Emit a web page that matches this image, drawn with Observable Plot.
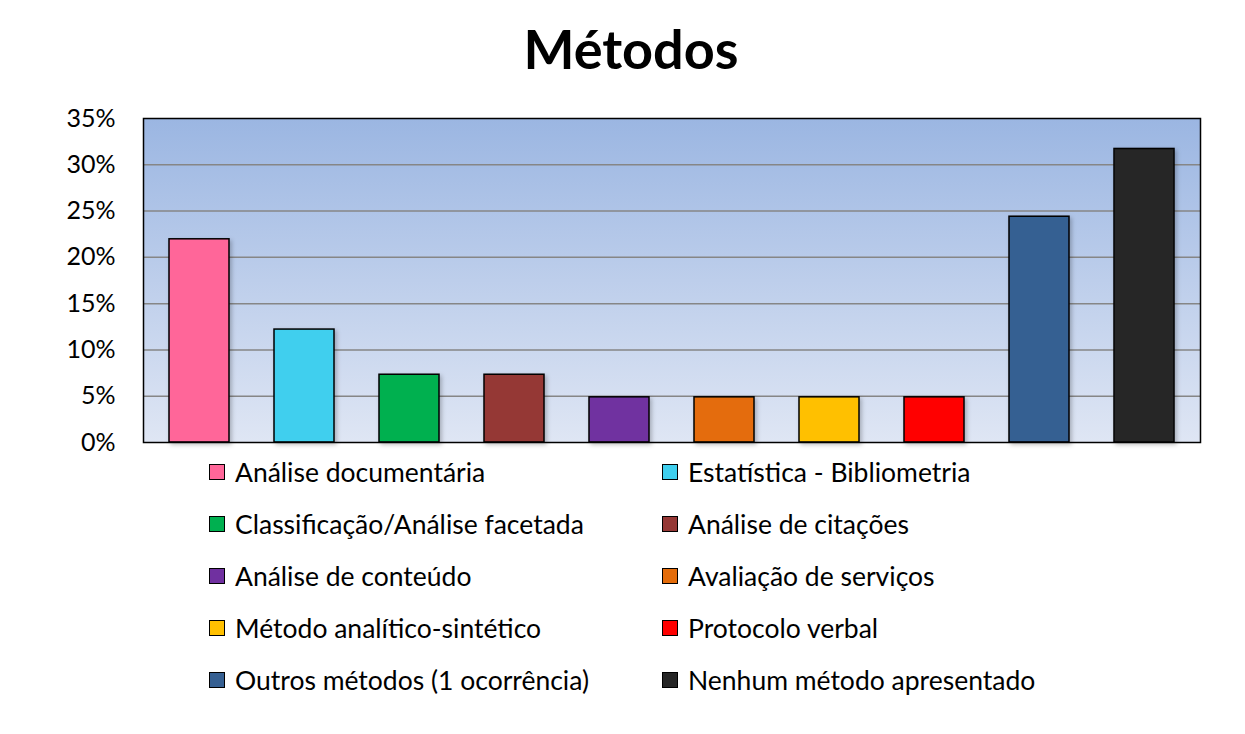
<!DOCTYPE html>
<html>
<head>
<meta charset="utf-8">
<script src="https://cdn.jsdelivr.net/npm/d3@7"></script>
<script src="https://cdn.jsdelivr.net/npm/@observablehq/plot@0.6"></script>
<style>
  html, body { margin: 0; padding: 0; background: #fff; }
  body { width: 1245px; height: 734px; position: relative; font-family: Lato, "Open Sans", sans-serif; overflow: hidden; }
  #title { position: absolute; left: 0; width: 1262px; top: 14px; text-align: center; font-weight: bold; font-size: 54px; line-height: 70px; color: #000; }
  #chart { position: absolute; left: 0; top: 108px; }
  .leg { position: absolute; display: flex; align-items: center; font-size: 26.5px; color: #000; height: 30px; white-space: nowrap; }
  .sw { width: 14px; height: 14px; border: 1px solid #000; margin-right: 10px; flex: none; }
</style>
</head>
<body>
<div id="title">Métodos</div>
<div id="chart"></div>
<div id="legend"></div>
<script>
const categories = [
  "Análise documentária",
  "Estatística - Bibliometria",
  "Classificação/Análise facetada",
  "Análise de citações",
  "Análise de conteúdo",
  "Avaliação de serviços",
  "Método analítico-sintético",
  "Protocolo verbal",
  "Outros métodos (1 ocorrência)",
  "Nenhum método apresentado"
];
const values = [21.95, 12.2, 7.32, 7.32, 4.88, 4.88, 4.88, 4.88, 24.39, 31.71];
const colors = ["#ff6699", "#3fcfee", "#00b050", "#953735", "#7030a0", "#e46c0a", "#ffc000", "#ff0000", "#366092", "#262626"];
const yTicks = [0, 5, 10, 15, 20, 25, 30, 35];
const gridTicks = [5, 10, 15, 20, 25, 30];

const data = categories.map((c, i) => ({cat: c, value: values[i]}));

const defsMark = () => {
  const defs = d3.create("svg:defs");
  const g = defs.append("linearGradient").attr("id", "bg").attr("x1", 0).attr("y1", 0).attr("x2", 0).attr("y2", 1);
  g.append("stop").attr("offset", "0%").attr("stop-color", "#9bb6e2");
  g.append("stop").attr("offset", "100%").attr("stop-color", "#dfe6f4");
  const f = defs.append("filter").attr("id", "shadow").attr("x", "-20%").attr("y", "-20%").attr("width", "150%").attr("height", "150%");
  f.append("feDropShadow").attr("dx", 2).attr("dy", 2).attr("stdDeviation", 2).attr("flood-color", "#000").attr("flood-opacity", 0.25);
  return defs.node();
};

const chart = Plot.plot({
  width: 1245,
  height: 338,
  marginLeft: 143,
  marginRight: 45,
  marginTop: 10,
  marginBottom: 4,
  style: {fontFamily: "Lato, 'Open Sans', sans-serif", fontSize: "25px", color: "#000", background: "transparent", overflow: "visible"},
  x: {domain: categories, paddingInner: 0.43, paddingOuter: 0.215, axis: null},
  y: {domain: [0, 35], ticks: yTicks, tickFormat: d => d + "%", tickSize: 0, tickPadding: 28, label: null},
  color: {domain: categories, range: colors},
  marks: [
    defsMark,
    Plot.frame({fill: "url(#bg)", stroke: null}),
    Plot.gridY(gridTicks, {stroke: "#868686", strokeOpacity: 1, strokeWidth: 1.5}),
    Plot.barY(data, {x: "cat", y: "value", fill: "cat", stroke: "#000", strokeWidth: 1.5}),
    Plot.frame({stroke: "#000", strokeWidth: 1.5})
  ]
});
d3.select(chart).selectAll("g[aria-label='bar'] rect").attr("filter", "url(#shadow)");
document.getElementById("chart").appendChild(chart);

const legend = document.getElementById("legend");
categories.forEach((c, i) => {
  const col = i % 2, row = Math.floor(i / 2);
  const item = document.createElement("div");
  item.className = "leg";
  item.style.left = (col === 0 ? 209 : 662) + "px";
  item.style.top = (457 + row * 52) + "px";
  const sw = document.createElement("div");
  sw.className = "sw";
  sw.style.background = colors[i];
  const t = document.createElement("span");
  t.textContent = c;
  item.appendChild(sw);
  item.appendChild(t);
  legend.appendChild(item);
});
</script>
</body>
</html>
